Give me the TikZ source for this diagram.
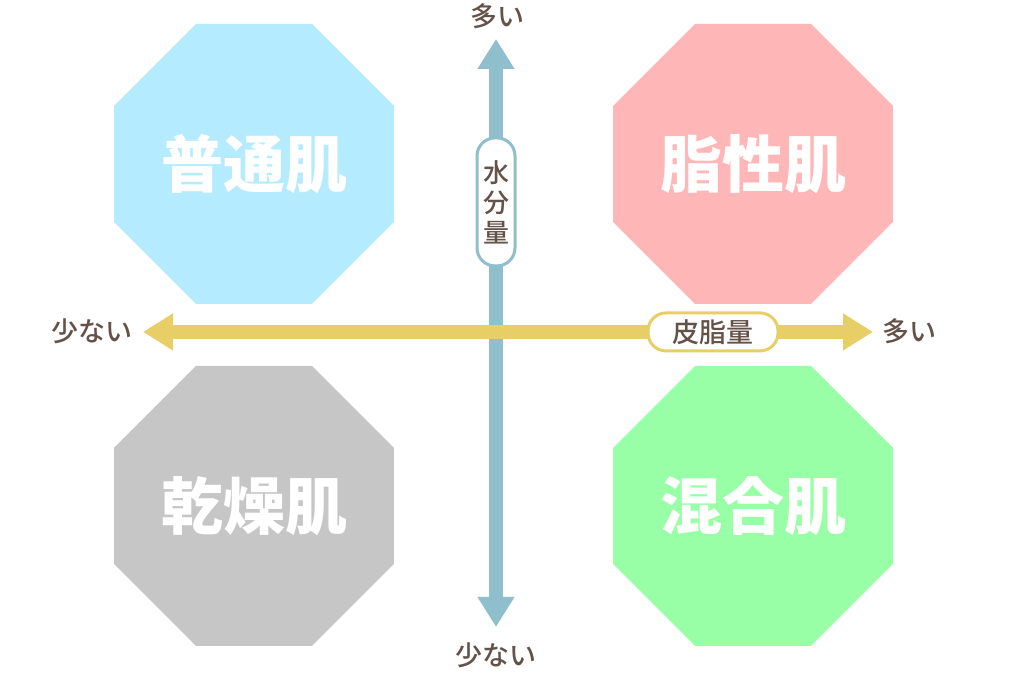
\documentclass[tikz,border=0pt]{standalone}
\usepackage{fontspec}
\setmainfont{Noto Sans CJK JP}
\newfontfamily\labelfont{Noto Sans CJK JP Medium}
\usepackage{xcolor}
\usepackage{tikz}
\usetikzlibrary{arrows.meta,positioning,calc,shapes.geometric}
\definecolor{NormalBlue}{RGB}{180,235,255}
\definecolor{OilyPink}{RGB}{255,182,182}
\definecolor{DryGray}{RGB}{198,198,198}
\definecolor{MixGreen}{RGB}{152,255,166}
\definecolor{AxisBlue}{RGB}{143,190,205}
\definecolor{AxisYellow}{RGB}{232,206,102}
\definecolor{TextBrown}{RGB}{100,82,72}

\begin{document}
\begin{tikzpicture}[x=1pt,y=-1pt,every node/.style={font=\labelfont\fontsize{27}{30}\selectfont,text=TextBrown}]
\tikzset{skin/.style={regular polygon,regular polygon sides=8,minimum size=303pt,inner sep=0pt,outer sep=0pt,
    font=\fontsize{62}{62}\selectfont\bfseries,text=white},
  axis/.style={line width=14pt,{Triangle[width=35pt,length=30pt]}-{Triangle[width=35pt,length=30pt]}},
  pill/.style={fill=white,line width=3pt,rounded corners=18pt,inner sep=0pt,align=center}}
\fill[white] (0,0) rectangle (1024,683);
\node[skin,fill=NormalBlue] (normal) at (254,163) {普通肌};
\node[skin,fill=OilyPink] (oily) at (753,163) {脂性肌};
\node[skin,fill=DryGray] (dry) at (254,505) {乾燥肌};
\node[skin,fill=MixGreen] (mixed) at (753,505) {混合肌};
\coordinate (wtop) at (496,38);
\coordinate (wbot) at (496,626);
\coordinate (sleft) at (143,331);
\coordinate (sright) at (873,331);
\draw[axis,AxisBlue] (wbot)--(wtop);
\draw[axis,AxisYellow] (sleft)--(sright);
\node[pill,draw=AxisBlue,minimum width=38pt,minimum height=128pt,font=\labelfont\fontsize{26}{30}\selectfont] (water) at (496,201) {水\\分\\量};
\node[pill,draw=AxisYellow,minimum width=130pt,minimum height=38pt,font=\labelfont\fontsize{27}{30}\selectfont] (sebum) at (713,331) {皮脂量};
\node (wmore) at (497,15) {多い};
\node (wless) at (496,654) {少ない};
\node (sless) at (92,330) {少ない};
\node (smore) at (909,330) {多い};
\end{tikzpicture}
\end{document}
